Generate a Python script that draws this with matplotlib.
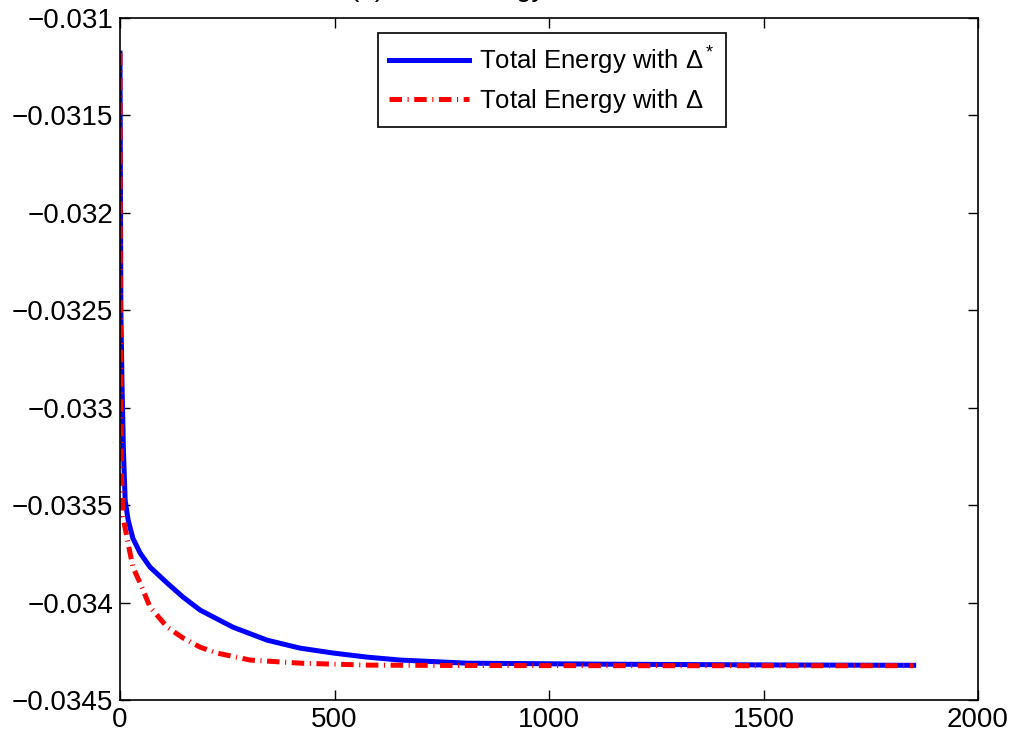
import numpy as np
import matplotlib
matplotlib.use('Agg')
from matplotlib import pyplot as plt
from matplotlib.ticker import MultipleLocator, FuncFormatter

# iteration / energy values
iter_star = [0, 2, 5, 8, 12, 19, 30, 47, 70, 110, 147, 187, 263, 343, 420, 497, 576,
             653, 809, 1119, 1500, 1850]
energy_star = [-0.03118, -0.03250, -0.03291, -0.03322, -0.033474, -0.033577, -0.033670,
               -0.033746, -0.033818, -0.033900, -0.033972, -0.034039, -0.034126,
               -0.034193, -0.034234, -0.034259, -0.034280, -0.034295, -0.034311,
               -0.034316, -0.034320, -0.034322]

iter_plain = [0, 1, 3, 7, 16, 30, 47, 70, 110, 147, 187, 226, 303, 420, 576, 800, 1200, 1850]
energy_plain = [-0.03118, -0.03250, -0.03330, -0.033561, -0.033664, -0.033818, -0.033900,
                -0.034023, -0.034126, -0.034182, -0.034229, -0.034259, -0.034295,
                -0.034311, -0.034321, -0.034323, -0.034324, -0.034324]

label_star = 'Total Energy with $\\Delta^*$'
label_plain = 'Total Energy with $\\Delta$'

plt.rcParams['font.family'] = ['Liberation Sans', 'DejaVu Sans']
plt.rcParams['mathtext.fontset'] = 'custom'
plt.rcParams['mathtext.rm'] = 'Liberation Sans'
plt.rcParams['mathtext.it'] = 'Liberation Sans'
plt.rcParams['lines.scale_dashes'] = False

fig = plt.figure(figsize=(10.23, 7.46), dpi=100)
ax = fig.add_axes([120 / 1023, 46 / 746, 858 / 1023, 682 / 746])

ax.plot(iter_star, energy_star, color='#0000ff', lw=3.6, label=label_star)
ax.plot(iter_plain, energy_plain, color='#ff0000', lw=3.6, label=label_plain,
        dashes=(9, 4, 0.8, 4), dash_capstyle='butt')

ax.set_xlim(0, 2000)
ax.set_ylim(-0.0345, -0.031)
ax.xaxis.set_major_locator(MultipleLocator(500))
ax.yaxis.set_major_locator(MultipleLocator(0.0005))
ax.yaxis.set_major_formatter(FuncFormatter(lambda v, p: ('%g' % v).replace('-', '\u2212')))
ax.tick_params(direction='in', top=True, right=True, length=7, width=1, labelsize=20, pad=5)
for s in ax.spines.values():
    s.set_linewidth(1.2)

leg = ax.legend(loc='upper center', bbox_to_anchor=(0.5035, 0.978), borderaxespad=0,
                fontsize=18.5, frameon=True, fancybox=False, edgecolor='black', framealpha=1,
                handlelength=3.1, borderpad=0.45, labelspacing=0.4, handletextpad=0.4)
leg.get_frame().set_linewidth(1.2)

# title mostly outside the canvas, as in the reference
fig.text(350 / 1023, 1 + 4 / 746, '(b) Total Energy', fontsize=20, ha='left', va='baseline')

fig.savefig('out.png', dpi=100)
